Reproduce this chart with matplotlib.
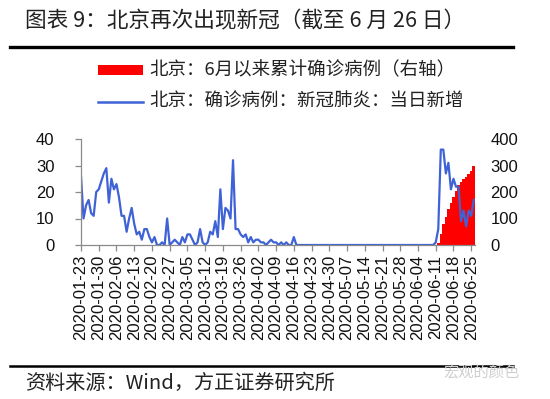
import matplotlib
matplotlib.use("Agg")
import matplotlib.pyplot as plt
import numpy as np
import pandas as pd
from matplotlib.patches import Rectangle
from matplotlib.lines import Line2D

# ---------------- data ----------------
dates = pd.date_range("2020-01-23", "2020-06-26", freq="D")

daily_new = (
    [26, 10, 15, 17, 12, 11, 20, 21, 24, 27,
     29, 16, 25, 21, 23, 18, 11, 11, 5, 10,
     14, 8, 4, 5, 2, 6, 6, 3, 1, 3,
     0, 0, 1, 0, 10, 0, 1, 2, 1, 0,
     3, 1, 4, 4, 2, 0, 1, 6, 1, 0,
     1, 5, 4, 9, 3, 21, 6, 14, 13, 10,
     32, 6, 6, 4, 3, 4, 1, 3, 1, 2,
     2, 1, 1, 0, 1, 2, 1, 1, 0, 1,
     0, 1, 0, 0, 3, 0, 0, 0, 0, 0]
    + [0] * 50
    + [1, 6, 36, 36, 27, 31, 21, 25, 22, 22, 9, 13, 7, 13, 11, 17]
)

june_dates = pd.date_range("2020-06-11", "2020-06-26", freq="D")
june_cumulative = [1, 7, 43, 79, 106, 137, 158, 183, 205, 227, 236, 249, 256, 269, 280, 297]

title = "图表 9：北京再次出现新冠（截至 6 月 26 日）"
label_bar = "北京：6月以来累计确诊病例（右轴）"
label_line = "北京：确诊病例：新冠肺炎：当日新增"
source = "资料来源：Wind，方正证券研究所"
watermark = "宏观的颜色"

left_ticks = [0, 10, 20, 30, 40]
right_ticks = [0, 100, 200, 300, 400]

# ---------------- style ----------------
plt.rcParams["font.family"] = ["Liberation Sans", "Noto Sans CJK SC", "DejaVu Sans"]
CJK = ["Noto Sans CJK SC", "DejaVu Sans"]
BLUE = "#3F63D6"
RED = "#FF0000"
GRAY = "#8a8a8a"

W, H = 550, 399
fig = plt.figure(figsize=(W / 100, H / 100), dpi=100)
fig.patch.set_facecolor("white")

def fx(px):
    return px / W

def fy(py):
    return 1 - py / H

ax = fig.add_axes([fx(81), fy(245), fx(475) - fx(81), fy(139) - fy(245)])
ax2 = ax.twinx()

x = np.arange(len(dates))
june_x = np.array([dates.get_loc(d) for d in june_dates])

bars = ax2.bar(june_x, june_cumulative, width=1.0, color=RED, linewidth=0)
line, = ax.plot(x, daily_new, color=BLUE, lw=1.6, solid_joinstyle="round")

ax.set_zorder(ax2.get_zorder() + 1)
ax.patch.set_visible(False)

ax.set_xlim(0, 155.5)
ax.set_ylim(0, 40)
ax2.set_ylim(0, 400)

ax.set_yticks(left_ticks)
ax2.set_yticks(right_ticks)

tick_pos = x[::7]
ax.set_xticks(tick_pos)
ax.set_xticklabels([d.strftime("%Y-%m-%d") for d in dates[::7]], rotation=90)

for s in ["top", "right"]:
    ax.spines[s].set_visible(False)
for s in ["top", "right", "left", "bottom"]:
    ax2.spines[s].set_visible(False)
ax.spines["left"].set_color(GRAY)
ax.spines["bottom"].set_color(GRAY)
ax.spines["left"].set_linewidth(0.9)
ax.spines["bottom"].set_linewidth(0.9)

ax.tick_params(axis="x", direction="out", length=4, width=0.9, color=GRAY,
               labelsize=12, pad=3, labelcolor="#111111")
ax.tick_params(axis="y", direction="out", length=4, width=0.9, color=GRAY,
               labelsize=12, pad=15, labelcolor="#111111")
ax2.tick_params(axis="y", length=0, labelsize=12, pad=11, labelcolor="#111111")

# ---------------- legend (manual) ----------------
fig.patches.append(Rectangle((fx(98), fy(75)), fx(143) - fx(98), fy(65) - fy(75),
                             transform=fig.transFigure, facecolor=RED, edgecolor="none"))
fig.lines.append(Line2D([fx(98), fx(143)], [fy(102), fy(102)], transform=fig.transFigure,
                        color=BLUE, lw=1.8))
fig.text(fx(149), fy(70), label_bar, family=CJK, fontsize=13.3, va="center", ha="left",
         color="#222222")
fig.text(fx(149), fy(102), label_line, family=CJK, fontsize=13.3, va="center", ha="left",
         color="#222222")

# ---------------- title / source ----------------
fig.text(fx(25), fy(21), title, family=CJK, fontsize=15.6, va="center", ha="left", color="#222222")
fig.lines.append(Line2D([fx(10), fx(513)], [fy(47), fy(47)], transform=fig.transFigure,
                        color="black", lw=2.4))
fig.lines.append(Line2D([fx(10), fx(513)], [fy(366), fy(366)], transform=fig.transFigure,
                        color="black", lw=1.8))
fig.text(fx(25), fy(383), source, family=CJK, fontsize=14.5, va="center", ha="left",
         color="#222222")
fig.text(fx(443), fy(373), watermark, family=CJK, fontsize=11, va="center", ha="left",
         color="#cfcfcf")

fig.savefig("out.png", dpi=100, facecolor="white")
